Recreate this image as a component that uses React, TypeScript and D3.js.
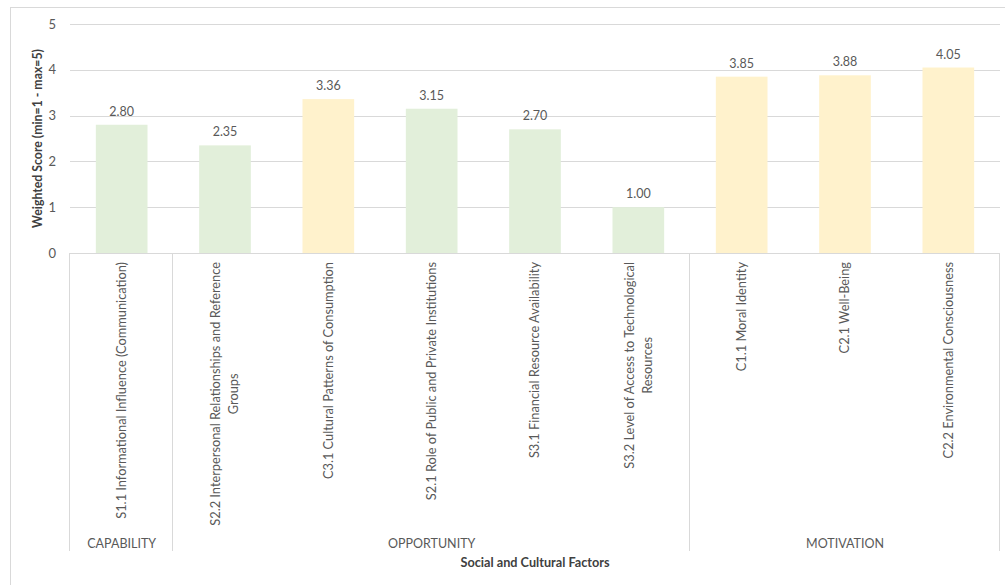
import React, { useEffect, useRef } from "react";
import * as d3 from "d3";

const categories = [
  "S1.1 Informational Influence (Communication)",
  "S2.2 Interpersonal Relationships and Reference|Groups",
  "C3.1 Cultural Patterns of Consumption",
  "S2.1 Role of Public and Private Institutions",
  "S3.1 Financial Resource Availability",
  "S3.2 Level of Access to Technological|Resources",
  "C1.1 Moral Identity",
  "C2.1 Well-Being",
  "C2.2 Environmental Consciousness",
];
const values = [2.8, 2.35, 3.36, 3.15, 2.7, 1.0, 3.85, 3.88, 4.05];
const groupNames = ["CAPABILITY", "OPPORTUNITY", "MOTIVATION"];
const groupSpans = [1, 5, 3];
const yTicks = [0, 1, 2, 3, 4, 5];

const W = 1005;
const H = 585;
const FONT = "Lato, 'Open Sans', sans-serif";

export default function App() {
  const ref = useRef<SVGSVGElement>(null);

  useEffect(() => {
    const svg = d3.select(ref.current);
    svg.selectAll("*").remove();

    const left = 70, right = 1000, top = 24, bottom = 253;
    const tableBottom = 551;

    const x = d3.scaleBand<number>().domain(d3.range(categories.length)).range([left, right]).paddingInner(0).paddingOuter(0);
    const y = d3.scaleLinear().domain([0, 5]).range([bottom, top]);
    const bw = x.bandwidth() * 0.5;

    // outer border
    svg.append("rect").attr("x", 10.5).attr("y", 7.5).attr("width", 1010).attr("height", 600)
      .attr("fill", "white").attr("stroke", "#d9d9d9").attr("stroke-width", 1);

    // gridlines
    svg.append("g").selectAll("line").data(yTicks.filter(t => t > 0)).join("line")
      .attr("x1", left).attr("x2", right)
      .attr("y1", d => Math.round(y(d)) + 0.5).attr("y2", d => Math.round(y(d)) + 0.5)
      .attr("stroke", "#d9d9d9").attr("stroke-width", 1);

    // y tick labels
    svg.append("g").selectAll("text").data(yTicks).join("text")
      .attr("x", 56).attr("y", d => y(d)).attr("dy", "0.35em")
      .attr("text-anchor", "end").attr("font-family", FONT).attr("font-size", 13)
      .attr("fill", "#595959").text(d => d);

    // bars
    svg.append("g").selectAll("rect").data(values).join("rect")
      .attr("x", (_, i) => (x(i) as number) + (x.bandwidth() - bw) / 2)
      .attr("y", d => y(d)).attr("width", bw).attr("height", d => bottom - y(d))
      .attr("fill", (_, i) => (categories[i].startsWith("C") ? "#fff2cc" : "#e2efda"));

    // value labels
    svg.append("g").selectAll("text").data(values).join("text")
      .attr("x", (_, i) => (x(i) as number) + x.bandwidth() / 2)
      .attr("y", d => y(d) - 9)
      .attr("text-anchor", "middle").attr("font-family", FONT).attr("font-size", 12.5)
      .attr("fill", "#595959").text(d => d.toFixed(2));

    // table lines
    svg.append("line").attr("x1", left).attr("x2", right).attr("y1", bottom + 0.5).attr("y2", bottom + 0.5)
      .attr("stroke", "#d9d9d9");
    let acc = 0;
    const bounds = [0];
    groupSpans.forEach(s => { acc += s; bounds.push(acc); });
    svg.append("g").selectAll("line").data(bounds).join("line")
      .attr("x1", b => Math.round(b === categories.length ? right : (x(b) as number)) - 0.5)
      .attr("x2", b => Math.round(b === categories.length ? right : (x(b) as number)) - 0.5)
      .attr("y1", bottom).attr("y2", tableBottom).attr("stroke", "#d9d9d9");

    // group labels
    svg.append("g").selectAll("text").data(groupNames).join("text")
      .attr("x", (_, i) => {
        const a = x(bounds[i]) as number;
        const b = bounds[i + 1] === categories.length ? right : (x(bounds[i + 1]) as number);
        return (a + b) / 2;
      })
      .attr("y", 548).attr("text-anchor", "middle").attr("font-family", FONT).attr("font-size", 12.5)
      .attr("fill", "#595959").text(d => d);

    // category labels (rotated)
    const labelTop = 262;
    const lineH = 18;
    categories.forEach((c, i) => {
      const lines = c.split("|");
      const cx = (x(i) as number) + x.bandwidth() / 2;
      const g = svg.append("g");
      const texts = lines.map((l) =>
        g.append("text").attr("font-family", FONT).attr("font-size", 12.8).attr("fill", "#595959")
          .attr("text-anchor", "middle").text(l)
      );
      const maxLen = d3.max(texts, t => (t.node() as SVGTextElement).getComputedTextLength()) || 0;
      const n = lines.length;
      texts.forEach((t, k) => {
        const off = (k - (n - 1) / 2) * lineH;
        const px = cx + off;
        const py = labelTop + maxLen / 2;
        t.attr("transform", `translate(${px},${py}) rotate(-90)`).attr("dy", "0.35em");
      });
    });

    // axis titles
    svg.append("text").attr("transform", `translate(38,${(top + bottom) / 2}) rotate(-90)`)
      .attr("text-anchor", "middle").attr("dy", "0.35em").attr("font-family", FONT).attr("font-size", 12.3)
      .attr("font-weight", "bold").attr("fill", "#404040").text("Weighted Score (min=1 - max=5)");
    svg.append("text").attr("x", (left + right) / 2).attr("y", 567)
      .attr("text-anchor", "middle").attr("font-family", FONT).attr("font-size", 12.7)
      .attr("font-weight", "bold").attr("fill", "#404040").text("Social and Cultural Factors");
  }, []);

  return (
    <svg ref={ref} width={W} height={H}
      style={{ position: "absolute", left: 0, top: 0, display: "block", background: "white" }} />
  );
}
